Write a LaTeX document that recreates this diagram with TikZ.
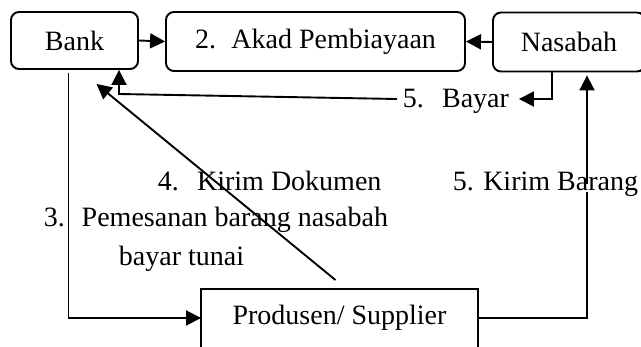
\documentclass[tikz,border=0pt]{standalone}
\usepackage{fontspec}
\setmainfont{Liberation Serif}
\usetikzlibrary{arrows.meta}

\begin{document}
\begin{tikzpicture}[x=1pt,y=-1pt,line width=1.9pt,
    box/.style={draw,rounded corners=8pt,inner sep=0pt},
    lbl/.style={inner sep=0pt,anchor=west,text height=0.68em,text depth=0.2em},
    every node/.style={font=\fontsize{28}{32}\selectfont},
    arr/.style={-{Triangle[length=15pt,width=15pt]}}]
  \clip (0,0) rectangle (641,347);
  % the four parties
  \node[box,minimum width=127pt,minimum height=57pt] (bank) at (74.5,40.5) {Bank};
  \node[box,minimum width=299pt,minimum height=59pt] (akad) at (315.5,41.5) {2.\hspace{0.55em}Akad Pembiayaan};
  \node[box,minimum width=152pt,minimum height=59pt] (nasabah) at (569,42) {Nasabah};
  \node[inner sep=0pt,minimum width=275pt,minimum height=56pt] (produsen) at (339.5,318) {Produsen/ Supplier};
  \draw ([yshift=-6pt]produsen.south west) |- (produsen.north east) -- ([yshift=-6pt]produsen.south east);

  % labels
  \node[lbl] (bayar) at (402,105) {5.\hspace{0.65em}Bayar};
  \node[lbl] (kirimdok) at (157,188) {4.\hspace{0.65em}Kirim Dokumen};
  \node[lbl] (pesan) at (43,224) {3.\hspace{0.6em}Pemesanan barang nasabah};
  \node[lbl] (tunai) at (118,263) {bayar tunai};
  \coordinate (bend) at (119,94);

  \draw[arr] (bank.east) -- (akad.west);
  \draw[arr] (nasabah.west) -- (akad.east);
  \draw[arr] ([xshift=-17pt]nasabah.south) |- ([xshift=9pt,yshift=6pt]bayar.east);
  \draw[arr] ([xshift=-5pt,yshift=6pt]bayar.west) -- (bend) -- (bend |- bank.south);
  \draw[arr] ([xshift=-6pt,yshift=-3pt]bank.south) |- (produsen.west);
  \draw[arr] ([xshift=-4pt,yshift=9pt]produsen.north) -- ([xshift=22pt,yshift=-14pt]bank.south);
  \draw[arr] (produsen.east) -| ([xshift=18pt,yshift=-3pt]nasabah.south);
  \node[lbl,fill=white] (kirimbarang) at (452,188) {5. Kirim Barang};
\end{tikzpicture}
\end{document}
